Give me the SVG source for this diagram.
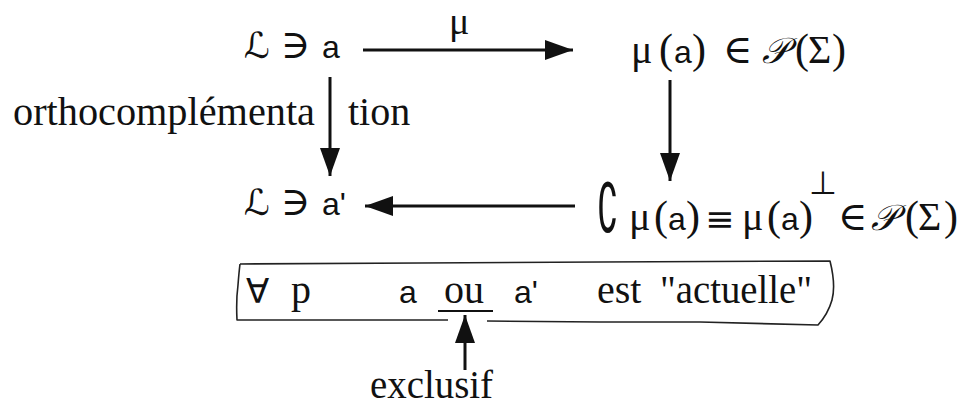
<svg xmlns="http://www.w3.org/2000/svg" width="964" height="407" viewBox="0 0 964 407">
<defs>
<style>
.s{font-family:"Liberation Serif","DejaVu Serif",serif;font-size:40px;fill:#111}
.m{font-family:"Liberation Sans","DejaVu Sans",sans-serif;font-size:32px;fill:#111}
.g{font-family:"Liberation Serif","DejaVu Serif",serif;font-size:40px;fill:#111}
.p{font-family:"Liberation Serif","DejaVu Serif",serif;font-size:42px;fill:#111}
.y{font-family:"DejaVu Sans",sans-serif;font-size:30px;fill:#111}
.c{font-family:"DejaVu Serif","DejaVu Sans",serif;font-size:36px;font-style:italic;fill:#111}
.ln{stroke:#111;stroke-width:3;fill:none}
.box{stroke:#222;stroke-width:1.6;fill:none;stroke-linejoin:round}
</style>
<marker id="ah" viewBox="0 0 28 20" refX="28" refY="10" markerWidth="28" markerHeight="20" markerUnits="userSpaceOnUse" orient="auto">
<path d="M0,0 L28,10 L0,20 Z" fill="#111"/>
</marker>
</defs>
<rect width="964" height="407" fill="#fff"/>

<g id="connectors">
<line class="ln" x1="363" y1="50" x2="573" y2="50" marker-end="url(#ah)"/>
<line class="ln" x1="330" y1="77" x2="330" y2="176" marker-end="url(#ah)"/>
<line class="ln" x1="670" y1="80" x2="670" y2="181" marker-end="url(#ah)"/>
<line class="ln" x1="575" y1="206" x2="365" y2="206" marker-end="url(#ah)"/>
<line class="ln" x1="465" y1="370" x2="465" y2="315" marker-end="url(#ah)"/>
</g>

<g id="label-mu"><text class="g" x="449" y="34" style="font-size:38px">μ</text></g>
<g id="label-ortho">
<text class="s" x="13" y="125" textLength="302" lengthAdjust="spacingAndGlyphs">orthocomplémenta</text>
<text class="s" x="348" y="125">tion</text>
</g>

<g id="n1">
<text class="c" x="244" y="58">ℒ</text>
<text class="g" x="281" y="58">∋</text>
<text class="m" x="322" y="58">a</text>
</g>

<g id="n2">
<text class="g" x="631" y="63">μ</text>
<text class="p" x="659" y="63">(</text>
<text class="m" x="674" y="63">a</text>
<text class="p" x="692" y="63">)</text>
<text class="g" x="723" y="63">∈</text>
<text class="c" x="762" y="63">𝒫</text>
<text class="p" x="795" y="63">(</text>
<text class="g" x="808" y="63">Σ</text>
<text class="p" x="832" y="63">)</text>
</g>

<g id="n3">
<text class="c" x="244" y="215">ℒ</text>
<text class="g" x="281" y="215">∋</text>
<text class="m" x="322" y="215">a'</text>
</g>

<g id="n4">
<text class="y" transform="translate(597,232) scale(1,2)" x="0" y="0" style="font-size:34px">∁</text>
<text class="g" x="629" y="230">μ</text>
<text class="p" x="654" y="230">(</text>
<text class="m" x="668" y="230">a</text>
<text class="p" x="686" y="230">)</text>
<text class="y" x="705" y="231" style="font-size:35px">≡</text>
<text class="g" x="742" y="230">μ</text>
<text class="p" x="767" y="230">(</text>
<text class="m" x="781" y="230">a</text>
<text class="p" x="799" y="230">)</text>
<text class="y" x="809" y="194" style="font-size:32px">⊥</text>
<text class="g" x="838" y="230">∈</text>
<text class="c" x="871" y="230">𝒫</text>
<text class="p" x="905" y="230">(</text>
<text class="g" x="918" y="230">Σ</text>
<text class="p" x="944" y="230">)</text>
</g>

<g id="n5">
<path class="box" d="M240,264 L420,263 L600,262 L830,261 Q836,285 832,300 Q828,314 818,325 L700,322 L600,322 L487,321 M448,320 L330,320 L237,320 Q236,300 238,285 Q239,272 240,264"/>
<text class="y" x="246" y="303" style="font-size:34px">∀</text>
<text class="s" x="291" y="303">p</text>
<text class="m" x="399" y="303">a</text>
<text class="s" x="444" y="303">ou</text>
<line x1="438" y1="311" x2="493" y2="311" stroke="#111" stroke-width="2"/>
<text class="m" x="514" y="303">a'</text>
<text class="s" x="597" y="303">est</text>
<text class="s" x="660" y="303" textLength="152" lengthAdjust="spacingAndGlyphs">"actuelle"</text>
</g>

<g id="n6"><text class="s" x="370" y="398" textLength="123" lengthAdjust="spacingAndGlyphs">exclusif</text></g>
</svg>
